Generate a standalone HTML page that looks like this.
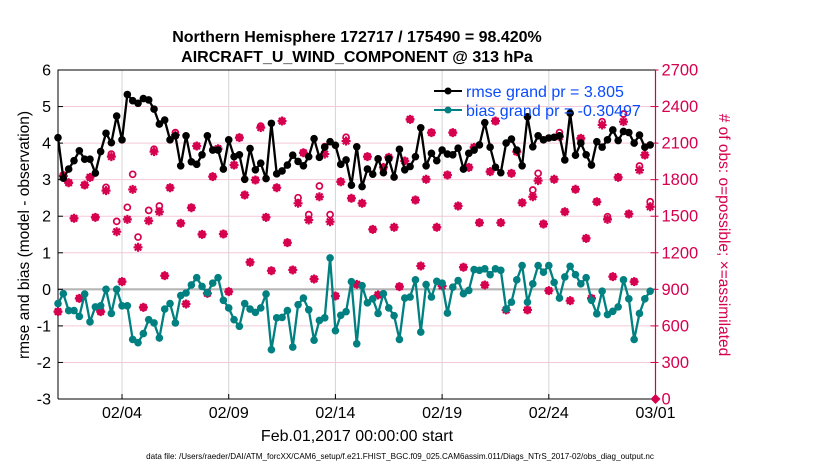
<!DOCTYPE html>
<html><head><meta charset="utf-8"><style>
body{margin:0;background:#fff;}
svg text{font-family:"Liberation Sans",sans-serif;}
</style></head><body>
<svg id="chart" width="830" height="470" xmlns="http://www.w3.org/2000/svg">
<g id="grid"></g>
<g id="axes"></g>
<g id="counts"></g>
<g id="lines"></g>
<text x="357" y="42" font-size="16" font-weight="bold" text-anchor="middle">Northern Hemisphere 172717 / 175490 = 98.420%</text>
<text x="357" y="62" font-size="16" font-weight="bold" text-anchor="middle">AIRCRAFT_U_WIND_COMPONENT @ 313 hPa</text>
<text transform="translate(29,235) rotate(-90)" font-size="15.5" text-anchor="middle">rmse and bias (model - observation)</text>
<text transform="translate(719,235) rotate(90)" font-size="15.5" fill="#d6004f" text-anchor="middle"># of obs: o=possible; ×=assimilated</text>
<text x="357" y="441" font-size="16" text-anchor="middle">Feb.01,2017 00:00:00 start</text>
<text x="400" y="459" font-size="8.1" text-anchor="middle">data file: /Users/raeder/DAI/ATM_forcXX/CAM6_setup/f.e21.FHIST_BGC.f09_025.CAM6assim.011/Diags_NTrS_2017-02/obs_diag_output.nc</text>
<g>
<line x1="434" y1="91" x2="462" y2="91" stroke="#000" stroke-width="2"/>
<circle cx="448" cy="91" r="3.5" fill="#000"/>
<text x="466" y="97" font-size="16" fill="#0a4bff">rmse grand pr = 3.805</text>
<line x1="434" y1="110" x2="462" y2="110" stroke="#008080" stroke-width="2"/>
<circle cx="448" cy="110" r="3.5" fill="#008080"/>
<text x="466" y="116" font-size="16" fill="#0a4bff">bias grand pr = -0.30497</text>
</g>
</svg>
<script>
const rmse=[4.15,3.04,3.29,3.52,3.79,3.56,3.56,3.18,3.77,4.27,4.01,4.74,4.09,5.33,5.16,5.09,5.22,5.18,4.93,4.52,4.63,4.09,4.2,3.38,4.2,3.49,3.42,3.68,4.2,3.81,3.81,3.29,4.09,3.63,3.68,3.01,3.85,3.27,3.45,3.03,4.54,3.16,3.24,3.40,3.67,3.5,3.38,3.63,4.12,3.61,3.89,4.04,3.94,3.42,3.54,2.85,3.9,2.81,3.29,3.15,3.57,3.19,3.57,3.07,3.83,3.27,3.36,3.63,4.42,3.38,3.72,3.52,3.81,3.70,3.68,3.86,3.29,3.72,3.81,3.95,4.56,3.89,3.34,3.19,4.0,4.11,3.81,3.38,4.72,3.90,4.20,4.09,4.14,4.16,4.20,3.54,4.82,3.67,4.0,3.68,3.40,4.04,3.89,4.09,4.36,4.07,4.32,4.29,4.0,4.22,3.89,3.95];
const bias=[-0.39,-0.12,-0.58,-0.58,-0.74,-0.13,-0.89,-0.48,-0.45,0,-0.66,0,-0.45,-0.45,-1.37,-1.46,-1.21,-0.83,-0.92,-1.33,-0.54,-0.39,-0.92,-0.17,-0.1,0.12,0.32,0.08,-0.1,0.17,0.32,-0.3,-0.51,-0.83,-1.01,-0.39,-0.54,-0.63,-0.51,-0.13,-1.65,-0.78,-0.77,-0.58,-1.58,-0.42,-0.24,-0.56,-1.39,-0.85,-0.78,0.86,-1.13,-0.71,-0.61,0.21,-1.49,0.1,-0.37,-0.26,-0.66,-0.12,-0.51,-0.72,-1.37,-0.24,-0.21,0.26,-1.17,0.13,-0.21,0.22,0.17,-0.65,0.06,0.24,-0.12,-0.03,0.54,0.52,0.56,0.40,0.56,0.52,-0.54,-0.35,0.26,0.65,-0.35,0.15,0.65,0.47,0.65,0.19,-0.24,0.34,0.63,0.40,0.15,0.32,-0.30,-0.67,-0.05,-0.69,-0.6,-0.48,0.26,-0.26,-1.37,-0.66,-0.26,-0.05];
const assim=[717,1830,1775,1483,826,1756,1819,1491,717,1710,1989,1373,963,1474,1720,1245,752,1463,2030,1537,1012,1734,2166,1442,780,1570,2076,1351,867,1825,2054,1354,881,1920,2145,1674,1122,1797,2227,1491,1053,1734,2281,1283,1059,1606,2021,1469,985,1660,2010,1455,845,1783,2117,1647,941,1606,1989,1392,854,1901,1983,1409,922,1953,2295,1633,1092,1803,2186,1409,928,1838,2186,1584,1081,1901,2065,1447,936,1866,2281,1447,731,1852,2030,1611,731,1660,1792,1436,889,1803,2153,1537,807,1721,2139,1318,826,1619,2249,1474,1004,1819,2276,1518,963,1879,2002,1578];
const possible=[717,1838,1775,1483,826,1756,1819,1491,717,1737,2010,1458,963,1573,1844,1329,752,1548,2050,1584,1012,1734,2186,1442,780,1570,2076,1351,867,1825,2054,1354,881,1920,2145,1674,1122,1797,2240,1491,1053,1734,2281,1283,1059,1652,2021,1513,985,1748,2071,1513,845,1783,2148,1647,941,1606,1989,1392,854,1901,1983,1409,922,1953,2295,1633,1092,1803,2186,1409,928,1838,2186,1584,1081,1901,2065,1447,936,1866,2281,1447,731,1852,2030,1611,731,1715,1852,1436,889,1803,2186,1537,807,1721,2139,1318,826,1619,2276,1496,1004,1819,2339,1518,963,1912,2002,1619];
const leftTicks=[-3,-2,-1,0,1,2,3,4,5,6];
const rightTicks=[0,300,600,900,1200,1500,1800,2100,2400,2700];
const dateTicks=[3,8,13,18,23,28];
const dateLabels=["02/04","02/09","02/14","02/19","02/24","03/01"];
const finalCount=0;

const L=58,R=655.5,T=70,B=399;
const xs=d=>L+(d/28)*(R-L);
const yl=v=>B-(v+3)/9*(B-T);
const yr=n=>B-n/2700*(B-T);
const NS="http://www.w3.org/2000/svg";
function mk(tag,attrs,parent){const e=document.createElementNS(NS,tag);for(const k in attrs)e.setAttribute(k,attrs[k]);parent.appendChild(e);return e;}
const grid=document.getElementById('grid'),axes=document.getElementById('axes'),counts=document.getElementById('counts'),lines=document.getElementById('lines');
const C='#d6004f';
leftTicks.forEach(v=>{
  const g=mk('line',{x1:L,x2:R,y1:yl(v),y2:yl(v),stroke:'#f3c9d8','stroke-width':1},grid);
  
  
  const t=mk('line',{x1:L,x2:L+5,y1:yl(v),y2:yl(v),stroke:'#000'},axes);
  
  
  const tx=mk('text',{x:L-7,y:yl(v)+5.5,'font-size':16,'text-anchor':'end'},axes);tx.textContent=v;
  
  
});
rightTicks.forEach(n=>{
  const t=mk('line',{x1:R-5,x2:R+3,y1:yr(n),y2:yr(n),stroke:C},axes);
  
  
  const tx=mk('text',{x:R+6,y:yr(n)+5.5,'font-size':16.5,fill:C},axes);tx.textContent=n;
  
  
});
dateTicks.forEach((d,i)=>{
  const g=mk('line',{x1:xs(d),x2:xs(d),y1:T,y2:B,stroke:'#d4d4d4'},grid);
  
  
  const t=mk('line',{x1:xs(d),x2:xs(d),y1:B,y2:B-5,stroke:'#000'},axes);
  
  
  const tx=mk('text',{x:xs(d),y:B+19,'font-size':16,'text-anchor':'middle'},axes);tx.textContent=dateLabels[i];
  
  
});
const z=mk('line',{x1:L,x2:R,y1:yl(0),y2:yl(0),stroke:'#b5b5b5','stroke-width':2.2},grid);


const fr=mk('path',{d:`M${L},${B}V${T}H${R}M${L},${B}H${R}`,stroke:'#000',fill:'none'},axes);


const ra=mk('line',{x1:R,x2:R,y1:T,y2:B,stroke:C,'stroke-width':1.2},axes);


const tk=i=>i*0.25;
assim.forEach((n,i)=>{
  const x=xs(tk(i));
  const o=mk('circle',{cx:x,cy:yr(possible[i]),r:3,fill:'none',stroke:C,'stroke-width':1.7},counts);
  
  
  const y=yr(n),s=4.5;
  const st=mk('path',{d:`M${x-s},${y}H${x+s}M${x},${y-s}V${y+s}M${x-3.2},${y-3.2}L${x+3.2},${y+3.2}M${x-3.2},${y+3.2}L${x+3.2},${y-3.2}`,stroke:C,'stroke-width':2.2},counts);
  
  
});
const fx=xs(28),fy=yr(finalCount);
const dm=mk('path',{d:`M${fx},${fy-5}L${fx+5},${fy}L${fx},${fy+5}L${fx-5},${fy}Z`,fill:C},counts);


function series(arr,color,name){
  const p=mk('polyline',{points:arr.map((v,i)=>xs(tk(i))+','+yl(v)).join(' '),fill:'none',stroke:color,'stroke-width':2.3},lines);
  
  
  arr.forEach((v,i)=>{
    const c=mk('circle',{cx:xs(tk(i)),cy:yl(v),r:3.8,fill:color},lines);
    
    
  });
}
series(bias,'#008080','bias');
series(rmse,'#000','rmse');
</script>
</body></html>
